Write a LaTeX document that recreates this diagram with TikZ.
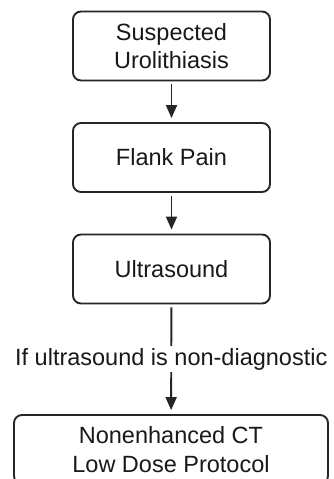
\documentclass[tikz,border=0pt]{standalone}
\usepackage{fontspec}
\setmainfont{Liberation Sans}
\usetikzlibrary{arrows.meta}

\begin{document}
\begin{tikzpicture}[x=1pt,y=1pt]
% Define styles
\tikzstyle{stepbox}=[rectangle, draw=black!85, line width=1.9pt, rounded corners=8pt, minimum width=197pt, minimum height=69pt, align=center, text=black!90, font=\fontsize{23.5}{28.5}\selectfont]
\tikzstyle{flow}=[draw=black!85, line width=1.9pt, -{Triangle[length=13pt,width=11pt]}, shorten <=3pt, shorten >=4pt]
\tikzstyle{cond}=[fill=white, inner sep=2pt, text=black!90, font=\fontsize{23.5}{28.5}\selectfont]

\useasboundingbox (0,0) rectangle (333,-479);

% Steps
\node[stepbox] (suspect) at (171.5,-46) {Suspected\\Urolithiasis};
\node[stepbox] (flank) at (171.5,-157.5) {Flank Pain};
\node[stepbox] (us) at (171.5,-269) {Ultrasound};
\node[stepbox, minimum width=314pt] (ct) at (171,-449.5) {Nonenhanced CT\\Low Dose Protocol};

% Arrows
\draw[flow] (suspect) -- (flank);
\draw[flow] (flank) -- (us);
\draw[flow] (us) -- node[cond] (nondiag) {If ultrasound is non-diagnostic} (ct);

\end{tikzpicture}
\end{document}
